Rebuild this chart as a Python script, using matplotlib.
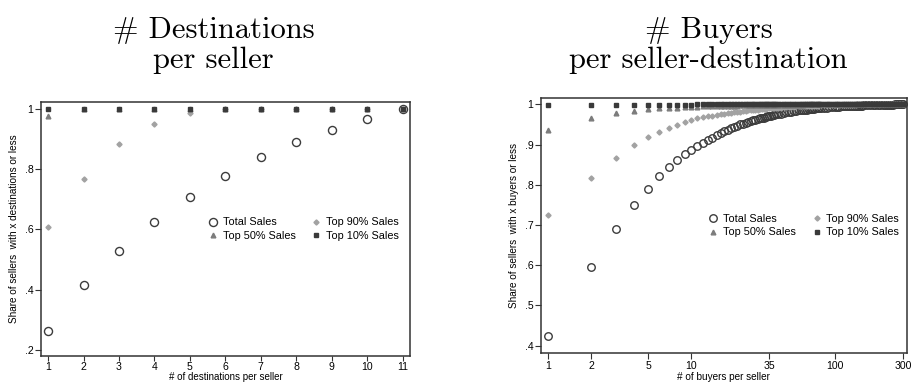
import numpy as np
import matplotlib
matplotlib.use("Agg")
import matplotlib.pyplot as plt
from matplotlib.ticker import FixedLocator, NullLocator

plt.rcParams['font.family'] = ['Liberation Sans', 'DejaVu Sans']

# ---- left panel: destinations per seller ----
dest_x = [1, 2, 3, 4, 5, 6, 7, 8, 9, 10, 11]
dest_total = [.264, .414, .528, .623, .706, .777, .839, .890, .930, .967, 1.0]
dest_top90 = [.606, .768, .882, .950, .985, 1.0, 1.0, 1.0, 1.0, 1.0, 1.0]
dest_top50 = [.975, 1.0, 1.0, 1.0, 1.0, 1.0, 1.0, 1.0, 1.0, 1.0, 1.0]
dest_top10 = [1.0, 1.0, 1.0, 1.0, 1.0, 1.0, 1.0, 1.0, 1.0, 1.0, 1.0]

# ---- right panel: buyers per seller-destination ----
buy_x = np.concatenate([np.arange(1, 41), np.arange(42, 81, 2),
                        np.arange(84, 161, 4), np.arange(168, 297, 8), [300]])
buy_total = [.423, .596, .691, .750, .790, .821, .844, .862, .877, .887,
             .896, .904, .911, .917, .923, .928, .933, .937, .941, .944,
             .947, .950, .952, .954, .956, .958, .960, .962, .963, .965,
             .966, .967, .969, .970, .971, .972, .973, .974, .975, .976,
             .977, .979, .980, .981, .982, .983, .984, .985, .985, .986,
             .987, .987, .988, .988, .989, .989, .990, .990, .991, .991,
             .992, .992, .993, .993, .994, .994, .994, .995, .995, .995,
             .996, .996, .996, .996, .997, .997, .997, .997, .997, .998,
             .998, .998, .998, .998, .999, .999, .999, .999, .999, .999,
             .999, .999, 1.0, 1.0, 1.0, 1.0, 1.0, 1.0]
buy_top90 = [.724, .818, .867, .899, .918, .931, .942, .949, .955, .961,
             .965, .968, .970, .972, .974, .976, .977, .978, .979, .980,
             .981, .982, .983, .984, .985, .985, .986, .987, .987, .988,
             .988, .989, .989, .990, .990, .991, .991, .991, .992, .992,
             .992, .993, .993, .994, .994, .994, .995, .995, .995, .996,
             .996, .996, .996, .997, .997, .997, .997, .997, .998, .998,
             .998, .998, .998, .998, .998, .999, .999, .999, .999, .999,
             .999, .999, .999, .999, .999, 1.0, 1.0, 1.0, 1.0, 1.0,
             1.0, 1.0, 1.0, 1.0, 1.0, 1.0, 1.0, 1.0, 1.0, 1.0,
             1.0, 1.0, 1.0, 1.0, 1.0, 1.0, 1.0, 1.0]
buy_top50 = [.936, .966, .978, .984, .988, .990, .991, .992, .993, .994,
             .994, .995, .995, .996, .996, .996, .997, .997, .997, .997,
             .997, .998, .998, .998, .998, .998, .998, .998, .998, .999,
             .999, .999, .999, .999, .999, .999, .999, .999, .999, .999,
             .999, .999, .999, .999, .999, .999, .999, .999, .999, .999,
             1.0, 1.0, 1.0, 1.0, 1.0, 1.0, 1.0, 1.0, 1.0, 1.0,
             1.0, 1.0, 1.0, 1.0, 1.0, 1.0, 1.0, 1.0, 1.0, 1.0,
             1.0, 1.0, 1.0, 1.0, 1.0, 1.0, 1.0, 1.0, 1.0, 1.0,
             1.0, 1.0, 1.0, 1.0, 1.0, 1.0, 1.0, 1.0, 1.0, 1.0,
             1.0, 1.0, 1.0, 1.0, 1.0, 1.0, 1.0, 1.0]
buy_top10 = [.999, .999, .999, .999, .999, .999, .999, .999, .999, .999,
             1.0, 1.0, 1.0, 1.0, 1.0, 1.0, 1.0, 1.0, 1.0, 1.0,
             1.0, 1.0, 1.0, 1.0, 1.0, 1.0, 1.0, 1.0, 1.0, 1.0,
             1.0, 1.0, 1.0, 1.0, 1.0, 1.0, 1.0, 1.0, 1.0, 1.0,
             1.0, 1.0, 1.0, 1.0, 1.0, 1.0, 1.0, 1.0, 1.0, 1.0,
             1.0, 1.0, 1.0, 1.0, 1.0, 1.0, 1.0, 1.0, 1.0, 1.0,
             1.0, 1.0, 1.0, 1.0, 1.0, 1.0, 1.0, 1.0, 1.0, 1.0,
             1.0, 1.0, 1.0, 1.0, 1.0, 1.0, 1.0, 1.0, 1.0, 1.0,
             1.0, 1.0, 1.0, 1.0, 1.0, 1.0, 1.0, 1.0, 1.0, 1.0,
             1.0, 1.0, 1.0, 1.0, 1.0, 1.0, 1.0, 1.0]

labels = ["Total Sales", "Top 90% Sales", "Top 50% Sales", "Top 10% Sales"]

W, H = 911, 385
fig = plt.figure(figsize=(W / 100, H / 100), dpi=100)


def px_axes(x0, x1, ytop, ybot):
    return fig.add_axes([x0 / W, (H - ybot) / H, (x1 - x0) / W, (ybot - ytop) / H])


def draw(ax, x, series, ms_circ):
    tot, t90, t50, t10 = series
    h1, = ax.plot(x, tot, 'o', ms=ms_circ, mfc='none', mec='#3c3c3c', mew=1.0, ls='none')
    h2, = ax.plot(x, t90, 'D', ms=2.6, mfc='#a2a2a2', mec='#a2a2a2', ls='none')
    h3, = ax.plot(x, t50, '^', ms=3.4, mfc='#7c7c7c', mec='#7c7c7c', ls='none')
    h4, = ax.plot(x, t10, 's', ms=3.0, mfc='#3a3a3a', mec='#3a3a3a', ls='none')
    for s in ax.spines.values():
        s.set_linewidth(1.1)
        s.set_color('#333333')
    ax.tick_params(direction='out', length=4, width=0.8, color='#333333',
                   labelsize=7.6, pad=1.5)
    return [h1, h2, h3, h4]


def legend(ax, handles, cx, cy):
    # order: col1 = Total, Top50 ; col2 = Top90, Top10
    ax.legend([handles[0], handles[2], handles[1], handles[3]],
              [labels[0], labels[2], labels[1], labels[3]],
              ncol=2, frameon=False, loc='center', bbox_to_anchor=(cx, cy),
              fontsize=7.8, handlelength=1.0, handletextpad=0.4,
              columnspacing=1.4, labelspacing=0.35, borderpad=0)


# left panel (nudged up a little so its x label fits in the canvas)
ax1 = px_axes(41, 410, 101.7, 356.2)
h = draw(ax1, dest_x, [dest_total, dest_top90, dest_top50, dest_top10], 5.8)
ax1.tick_params(axis='x', length=3.5, pad=1)
ax1.set_xlim(0.8, 11.21)
ax1.set_ylim(0.179, 1.023)
ax1.set_xticks(dest_x)
ax1.set_yticks([.2, .4, .6, .8, 1])
ax1.set_yticklabels(['.2', '.4', '.6', '.8', '1'])
ax1.set_ylabel("Share of sellers  with x destinations or less", fontsize=7.2, labelpad=4)
ax1.set_xlabel("# of destinations per seller", fontsize=7.0, labelpad=0)
legend(ax1, h, 0.711, 0.499)

# right panel
ax2 = px_axes(541, 906.7, 98.3, 353.3)
h = draw(ax2, buy_x, [buy_total, buy_top90, buy_top50, buy_top10], 5.4)
ax2.set_xscale('log')
ax2.set_xlim(0.894, 318.5)
ax2.set_ylim(0.381, 1.015)
ax2.xaxis.set_major_locator(FixedLocator([1, 2, 5, 10, 35, 100, 300]))
ax2.xaxis.set_minor_locator(NullLocator())
ax2.set_xticklabels(['1', '2', '5', '10', '35', '100', '300'])
ax2.set_yticks([.4, .5, .6, .7, .8, .9, 1])
ax2.set_yticklabels(['.4', '.5', '.6', '.7', '.8', '.9', '1'])
ax2.set_ylabel("Share of sellers  with x buyers or less", fontsize=7.2, labelpad=4)
ax2.set_xlabel("# of buyers per seller", fontsize=7.2, labelpad=1)
legend(ax2, h, 0.718, 0.501)

# serif titles
tfont = dict(family=['cmr10', 'DejaVu Serif'], fontsize=22, ha='center', va='baseline')
fig.text(213.5 / W, 1 - 37.5 / H, "# Destinations", **tfont)
fig.text(213.5 / W, 1 - 68.5 / H, "per seller", **tfont)
fig.text(708.5 / W, 1 - 37.5 / H, "# Buyers", **tfont)
fig.text(708.5 / W, 1 - 68.5 / H, "per seller-destination", **tfont)

fig.savefig("out.png", dpi=100)
